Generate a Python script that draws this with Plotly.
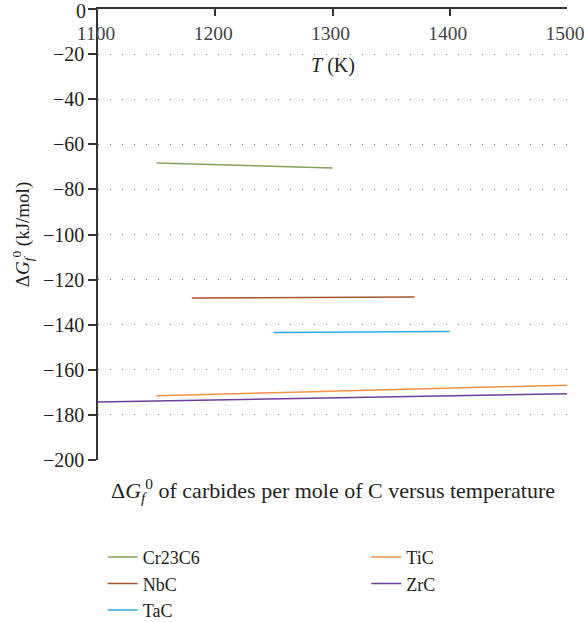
import plotly.graph_objects as go

names = ["Cr23C6", "NbC", "TaC", "TiC", "ZrC"]
temps = [[1150, 1300], [1180, 1370], [1250, 1400], [1150, 1500], [1100, 1500]]
dG = [[-68.3, -70.5], [-128.2, -127.7], [-143.5, -143.0], [-171.5, -166.8], [-174.3, -170.6]]
colors = ["#86a05a", "#a3552e", "#2aa8e0", "#f29245", "#6e3f99"]
legend_ids = ["legend", "legend", "legend", "legend2", "legend2"]

x_ticks = [1100, 1200, 1300, 1400, 1500]
y_ticks = [0, -20, -40, -60, -80, -100, -120, -140, -160, -180, -200]
y_ticklabels = ["" if v == 0 else "\u2212" + str(-v) for v in y_ticks]

FONT = "Liberation Serif"
TXT = "#231f20"

fig = go.Figure()
for n, t, g, c, lg in zip(names, temps, dG, colors, legend_ids):
    fig.add_trace(go.Scatter(x=t, y=g, mode="lines", name=n,
                             line=dict(color=c, width=1.5), legend=lg))

fig.update_layout(
    width=584, height=622,
    margin=dict(l=98, r=17, t=9, b=162, autoexpand=False),
    paper_bgcolor="white", plot_bgcolor="white",
    font=dict(family=FONT, size=20, color=TXT),
    xaxis=dict(range=[1100, 1500], tickvals=x_ticks, ticktext=[str(v) for v in x_ticks],
               side="top", ticklabelposition="inside", ticklabeloverflow="allow",
               ticklabelstandoff=12, ticklabelshift=-2,
               showline=True, linecolor="#333", linewidth=1.5,
               ticks="inside", ticklen=7, tickcolor="#333", tickwidth=1.5,
               showgrid=False, zeroline=False, automargin=False,
               tickfont=dict(size=19.5)),
    yaxis=dict(range=[-200, 0], tickvals=y_ticks, ticktext=y_ticklabels,
               showline=True, linecolor="#333", linewidth=1.5,
               ticks="outside", ticklen=8, tickcolor="#333", tickwidth=1.5,
               showgrid=True, gridcolor="#777", griddash="1px,11px", gridwidth=1,
               zeroline=False, automargin=False,
               title=dict(text="\u0394<i>G</i><sub><i>f</i></sub><sup>0</sup> (kJ/mol)", standoff=8,
                          font=dict(size=19)),
               tickfont=dict(size=20)),
    legend=dict(x=0.01, y=-0.175, xanchor="left", yanchor="top",
                font=dict(size=18), bgcolor="rgba(0,0,0,0)"),
    legend2=dict(x=0.572, y=-0.175, xanchor="left", yanchor="top",
                 font=dict(size=18), bgcolor="rgba(0,0,0,0)"),
    annotations=[
        dict(text="0", x=0, y=0, xref="paper", yref="y",
             xanchor="right", yanchor="middle", xshift=-10, yshift=-2, showarrow=False,
             font=dict(size=20, family=FONT, color=TXT)),
        dict(text="<i>T</i> (K)", x=0.5, y=0.875, xref="paper", yref="paper",
             xanchor="center", yanchor="middle", showarrow=False,
             font=dict(size=20, family=FONT, color=TXT)),
        dict(text="\u0394<i>G</i><sub><i>f</i></sub><sup>0</sup> of carbides per mole of C versus temperature",
             x=0.5, y=-0.068, xref="paper", yref="paper",
             xanchor="center", yanchor="middle", showarrow=False,
             font=dict(size=22, family=FONT, color=TXT))],
)

fig.write_html("out.html")
